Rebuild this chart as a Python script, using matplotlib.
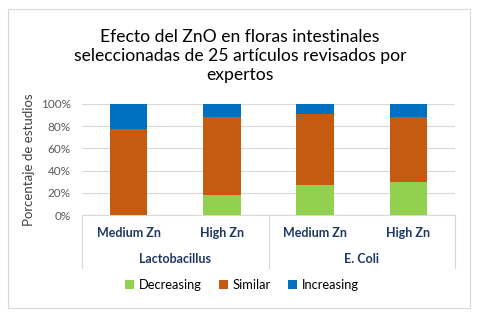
import matplotlib.pyplot as plt
from matplotlib.patches import Rectangle
from matplotlib.lines import Line2D
from matplotlib.ticker import PercentFormatter

plt.rcParams['font.family'] = ['Lato', 'DejaVu Sans']

groups = ["Lactobacillus", "E. Coli"]
doses = ["Medium Zn", "High Zn", "Medium Zn", "High Zn"]
series = ["Decreasing", "Similar", "Increasing"]
decreasing = [0.0, 17.6, 27.3, 29.4]
similar = [77.8, 70.6, 63.6, 58.8]
increasing = [22.2, 11.8, 9.1, 11.8]
colors = ["#92D050", "#C55A11", "#0070C0"]

W, H = 480, 336
fig = plt.figure(figsize=(4.8, 3.36), dpi=100)

# light frame around the whole chart
fig.patches.append(Rectangle((8 / W, 1 - 308 / H), 462 / W, 299 / H,
                             transform=fig.transFigure, fill=False,
                             edgecolor="#D9D9D9", linewidth=0.8))

ax = fig.add_axes([82 / W, 1 - 215 / H, 373 / W, 111 / H])

x = list(range(len(doses)))
bottom = [0] * len(x)
for name, vals, c in zip(series, [decreasing, similar, increasing], colors):
    ax.bar(x, vals, width=0.4, bottom=bottom, color=c, label=name, zorder=3)
    bottom = [b + v for b, v in zip(bottom, vals)]

ax.set_xlim(-0.5, 3.5)
ax.set_ylim(0, 100)
ax.set_yticks(range(0, 101, 20))
ax.yaxis.set_major_formatter(PercentFormatter(decimals=0))
ax.grid(axis="y", color="#D9D9D9", linewidth=0.8, zorder=0)
for s in ["top", "right", "left"]:
    ax.spines[s].set_visible(False)
ax.spines["bottom"].set_color("#D9D9D9")
ax.tick_params(axis="y", length=0, labelsize=8.5, labelcolor="#595959", pad=8)
ax.set_xticks([])
ax.set_ylabel("Porcentaje de estudios", fontsize=9.5, color="#404040", labelpad=4)

# two-level category axis
trans = ax.get_xaxis_transform()
for i, d in enumerate(doses):
    ax.text(i, -0.165, d, transform=trans, ha="center", va="center",
            fontsize=9, fontweight="bold", color="#1F3864")
for gi, g in enumerate(groups):
    ax.text(gi * 2 + 0.5, -0.40, g, transform=trans, ha="center", va="center",
            fontsize=9, fontweight="bold", color="#1F3864")
for xs in [-0.5, 1.5, 3.5]:
    ax.add_line(Line2D([xs, xs], [0, -0.48], transform=trans, clip_on=False,
                       color="#D9D9D9", linewidth=0.8))

fig.text(240 / W, 1 - 56 / H,
         "Efecto del ZnO en floras intestinales\nseleccionadas de 25 artículos revisados por\nexpertos",
         ha="center", va="center", fontsize=12.6, color="#000000", linespacing=1.25)

fig.legend(loc="center", bbox_to_anchor=(242 / W, 1 - 285 / H), ncol=3,
           frameon=False, fontsize=9.3, handlelength=0.7, handleheight=0.7,
           handletextpad=0.4, columnspacing=1.3, labelcolor="#000000")

fig.savefig("out.png", dpi=100, facecolor="white")
